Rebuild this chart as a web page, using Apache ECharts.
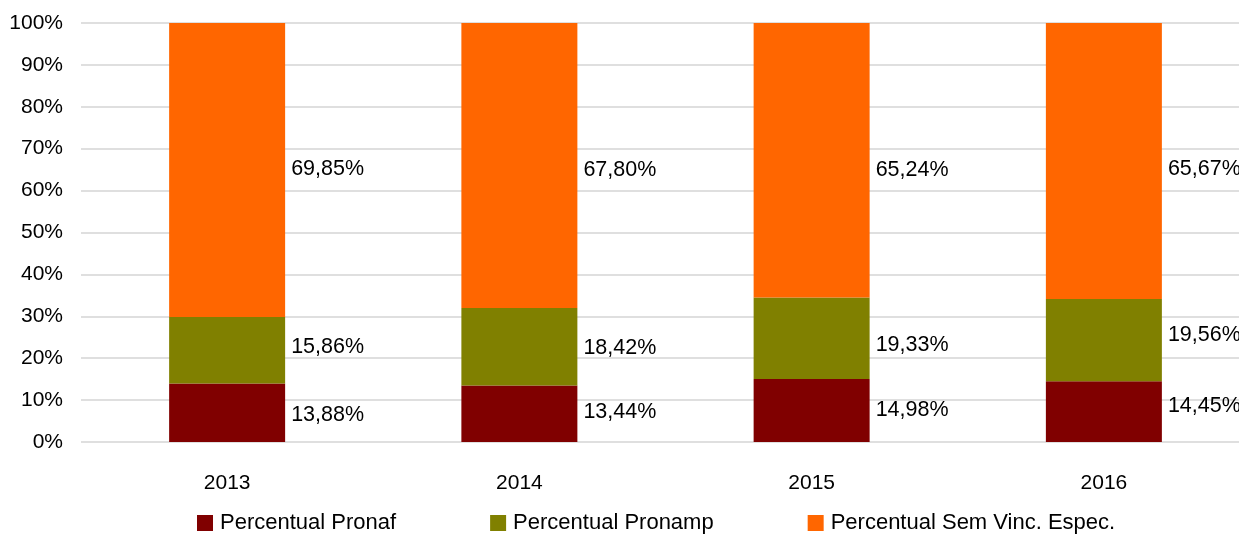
<!DOCTYPE html>
<html>
<head>
<meta charset="utf-8">
<script src="https://cdn.jsdelivr.net/npm/echarts@6/dist/echarts.min.js"></script>
<style>html,body{margin:0;padding:0;background:#fff;}#c{width:1239px;height:535px;}</style>
</head>
<body>
<div id="c"></div>
<script>
const categories = ['2013', '2014', '2015', '2016'];
const pronaf = [13.88, 13.44, 14.98, 14.45];
const pronamp = [15.86, 18.42, 19.33, 19.56];
const semVinc = [69.85, 67.80, 65.24, 65.67];
const seriesNames = ['Percentual Pronaf', 'Percentual Pronamp', 'Percentual Sem Vinc. Espec.'];
const colors = ['#800000', '#808000', '#FF6600'];
const yTicks = [0, 10, 20, 30, 40, 50, 60, 70, 80, 90, 100];
// vertical nudges (px) of the value labels, per series / per year (layout only)
const labelNudge = [
  [2, -2, 0, -6],
  [-3, 1.5, 7, -5],
  [-1, 4.5, 10, 8]
];

const raw = [pronaf, pronamp, semVinc];
// 100% stacked: share of each year's total
const totals = categories.map((_, i) => raw.reduce((s, arr) => s + arr[i], 0));
const font = 'Liberation Sans, Arial, sans-serif';

const chart = echarts.init(document.getElementById('c'));
chart.setOption({
  animation: false,
  color: colors,
  grid: { left: 81, right: -11, top: 23, bottom: 93, containLabel: false, outerBoundsMode: 'none' },
  xAxis: {
    type: 'category',
    data: categories,
    axisLine: { show: false },
    axisTick: { show: false },
    axisLabel: { color: '#000', fontSize: 21, fontFamily: font, margin: 31 }
  },
  yAxis: {
    type: 'value',
    min: 0, max: 100, interval: 10,
    axisLine: { show: false },
    axisTick: { show: false },
    splitLine: { lineStyle: { color: '#d4d4d4', width: 1.5 } },
    axisLabel: { color: '#000', fontSize: 21, fontFamily: font, margin: 18,
      formatter: v => (yTicks.includes(v) ? v + '%' : '') }
  },
  legend: {
    data: seriesNames,
    left: 192, top: 507,
    itemWidth: 16, itemHeight: 16, itemGap: 94,
    icon: 'rect',
    textStyle: { color: '#000', fontSize: 22, fontFamily: font, padding: [0, 0, 0, 2] }
  },
  series: raw.map((arr, k) => ({
    name: seriesNames[k],
    type: 'bar',
    stack: 'total',
    barWidth: 116,
    data: arr.map((v, i) => ({
      value: v / totals[i] * 100,
      raw: v,
      label: { offset: [0, labelNudge[k][i]] }
    })),
    label: {
      show: true,
      position: 'right',
      distance: 6,
      color: '#000',
      fontSize: 21.5,
      fontFamily: font,
      formatter: p => p.data.raw.toFixed(2).replace('.', ',') + '%'
    }
  }))
});
</script>
</body>
</html>
